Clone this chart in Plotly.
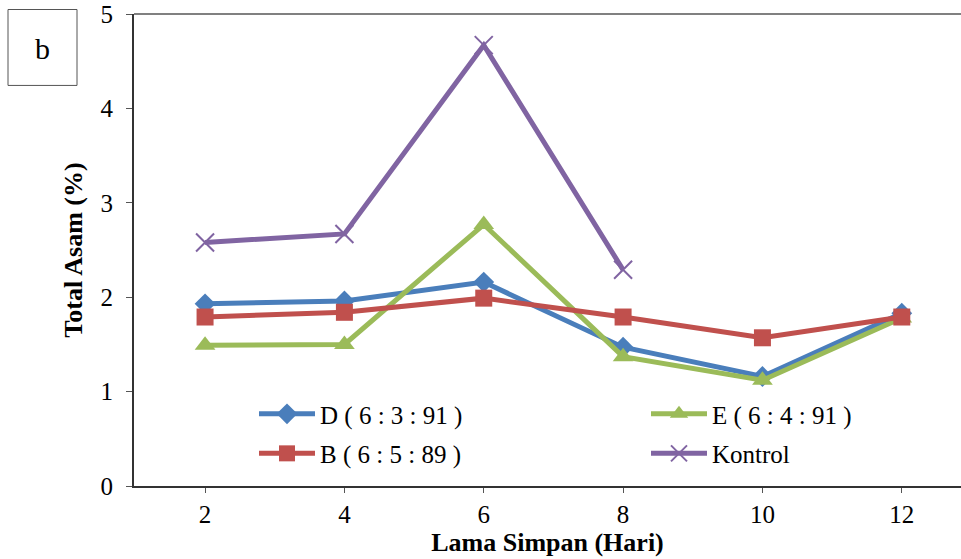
import plotly.graph_objects as go

days = [2, 4, 6, 8, 10, 12]
kontrol_days = [2, 4, 6, 8]
D_vals = [1.93, 1.96, 2.16, 1.47, 1.16, 1.83]
E_vals = [1.49, 1.50, 2.77, 1.37, 1.12, 1.78]
B_vals = [1.79, 1.84, 1.99, 1.79, 1.57, 1.79]
K_vals = [2.58, 2.67, 4.67, 2.29]

names = ["D ( 6 : 3 : 91 )", "E ( 6 : 4 : 91 )", "B ( 6 : 5 : 89 )", "Kontrol"]
colors = ["#4A7EBB", "#9BBB59", "#C0504D", "#8064A2"]

FONT = "Liberation Serif, Times New Roman, serif"

fig = go.Figure()
fig.add_trace(go.Scatter(x=days, y=D_vals, name=names[0], mode="lines+markers",
                         legend="legend", legendgroup="d",
                         line=dict(color=colors[0], width=5),
                         marker=dict(symbol="diamond", size=16, color=colors[0])))
fig.add_trace(go.Scatter(x=days, y=E_vals, name=names[1], mode="lines+markers",
                         legend="legend2", legendgroup="e",
                         line=dict(color=colors[1], width=5),
                         marker=dict(symbol="triangle-up", size=18, color=colors[1])))
fig.add_trace(go.Scatter(x=days, y=B_vals, name=names[2], mode="lines+markers",
                         legend="legend", legendgroup="b",
                         line=dict(color=colors[2], width=5),
                         marker=dict(symbol="square", size=17, color=colors[2])))
fig.add_trace(go.Scatter(x=kontrol_days, y=K_vals, name=names[3], mode="lines+markers",
                         legend="legend2", legendgroup="k",
                         line=dict(color=colors[3], width=5),
                         marker=dict(symbol="x-thin", size=18, color=colors[3],
                                     line=dict(color=colors[3], width=2))))

# body margin is removed via post_script, so the figure sits at the window corner
W, H = 961, 559
L, R, T, B = 134, 0, 13.5, 559 - 486
pw, ph = W - L - R, H - T - B

def px(x):
    return (x - L) / pw

def py(y):
    return (H - B - y) / ph

fig.add_shape(type="rect", xref="paper", yref="paper",
              x0=px(8), x1=px(77), y0=py(85), y1=py(9),
              line=dict(color="#555", width=1), fillcolor="white")
fig.add_annotation(xref="paper", yref="paper", x=px(42.5), y=py(48), text="b",
                   xanchor="center", yanchor="middle",
                   showarrow=False, font=dict(family=FONT, size=30, color="black"))
fig.add_shape(type="line", xref="paper", yref="paper", x0=0, x1=1, y0=1, y1=1,
              line=dict(color="#808080", width=2))

leg_common = dict(orientation="v", xanchor="left", yanchor="top",
                  font=dict(family=FONT, size=25, color="black"),
                  bgcolor="rgba(0,0,0,0)", itemwidth=56, tracegroupgap=4)

fig.update_layout(
    width=W, height=H,
    margin=dict(l=L, r=R, t=T, b=B, autoexpand=False),
    paper_bgcolor="white", plot_bgcolor="white",
    font=dict(family=FONT, size=25, color="black"),
    showlegend=True,
    legend=dict(x=px(254), y=py(391), **leg_common),
    legend2=dict(x=px(646), y=py(391), **leg_common),
    xaxis=dict(range=[0.98, 12.85], tickvals=days, ticktext=[str(d) for d in days],
               showgrid=False, zeroline=False, showline=True, linecolor="#333", linewidth=2,
               ticks="outside", ticklen=5, tickcolor="#555", tickwidth=1,
               ticklabelstandoff=0,
               tickfont=dict(family=FONT, size=25),
               title=dict(text="<b>Lama Simpan (Hari)</b>", standoff=0,
                          font=dict(family=FONT, size=26))),
    yaxis=dict(range=[0, 5], tickvals=[0, 1, 2, 3, 4, 5],
               showgrid=False, zeroline=False, showline=True, linecolor="#333", linewidth=2,
               ticks="outside", ticklen=6, tickcolor="#555", tickwidth=1,
               ticklabelstandoff=8, ticklabeloverflow="allow",
               tickfont=dict(family=FONT, size=25),
               title=dict(text="<b>Total Asam (%)</b>", standoff=10,
                          font=dict(family=FONT, size=26))),
)

fig.write_html("out.html",
               config={"displayModeBar": False},
               post_script="document.body.style.margin='0';document.body.style.overflow='hidden';")
